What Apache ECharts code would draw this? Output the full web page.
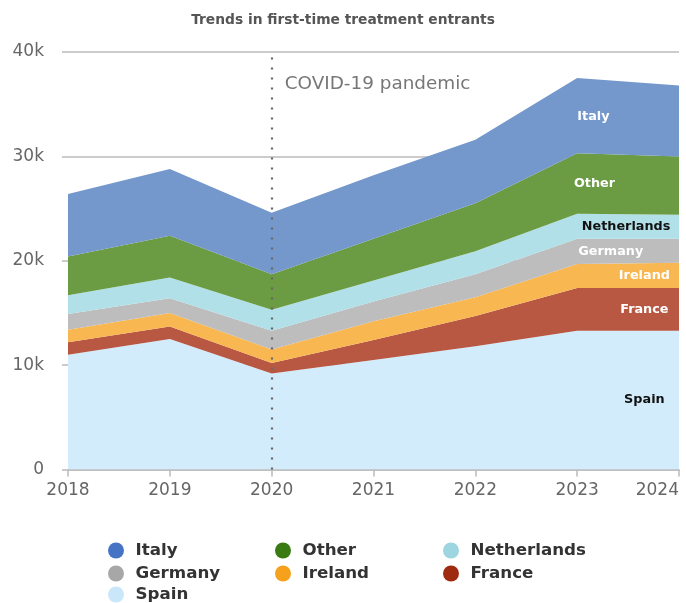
<!DOCTYPE html>
<html>
<head>
<meta charset="utf-8">
<script src="https://cdn.jsdelivr.net/npm/echarts@6/dist/echarts.min.js"></script>
<style>
  html, body { margin: 0; padding: 0; background: #fff; }
  #chart { width: 686px; height: 603px; }
</style>
</head>
<body>
<div id="chart"></div>
<script>
// First-time treatment entrants by country, stacked from the bottom up
var years = ['2018', '2019', '2020', '2021', '2022', '2023', '2024'];
var spain       = [11000, 12500, 9200, 10500, 11800, 13300, 13300];
var france      = [1200, 1200, 1000, 1900, 2900, 4100, 4100];
var ireland     = [1200, 1300, 1300, 1800, 1800, 2300, 2400];
var germany     = [1500, 1400, 1800, 1900, 2200, 2400, 2300];
var netherlands = [1800, 2000, 2000, 2000, 2200, 2400, 2300];
var other       = [3700, 4000, 3400, 4000, 4600, 5800, 5600];
var italy       = [6000, 6400, 5900, 6100, 6100, 7200, 6800];

var yTicks = [0, 10000, 20000, 30000, 40000];
var eventYear = '2020';
var eventText = 'COVID-19 pandemic';

// stacking order (bottom to top)
var layers = [
  { name: 'Spain',       data: spain,       icon: '#c9e7f9', fill: '#d2ecfb', text: '#111', at: 0.66 },
  { name: 'France',      data: france,      icon: '#9e2a10', fill: '#b85742', text: '#fff', at: 0.66 },
  { name: 'Ireland',     data: ireland,     icon: '#f6a11c', fill: '#f9b752', text: '#fff', at: 0.66 },
  { name: 'Germany',     data: germany,     icon: '#a7a7a7', fill: '#bdbdbd', text: '#fff', at: 0.33 },
  { name: 'Netherlands', data: netherlands, icon: '#9dd5e0', fill: '#b2e0e9', text: '#111', at: 0.48 },
  { name: 'Other',       data: other,       icon: '#3a7a12', fill: '#6b9b43', text: '#fff', at: 0.17 },
  { name: 'Italy',       data: italy,       icon: '#4673c4', fill: '#7498cc', text: '#fff', at: 0.16 }
];

var chart = echarts.init(document.getElementById('chart'));
var FONT = "'DejaVu Sans', Verdana, sans-serif";

var series = layers.map(function (l) {
  return {
    name: l.name,
    type: 'line',
    stack: 'total',
    data: l.data,
    symbol: 'none',
    smooth: false,
    lineStyle: { width: 0 },
    itemStyle: { color: l.icon },
    areaStyle: { color: l.fill, opacity: 1 },
    emphasis: { disabled: true },
    z: 2
  };
});

// dotted marker line for the event year
series[0].markLine = {
  silent: true,
  symbol: ['none', 'none'],
  label: { show: false },
  lineStyle: { color: '#666', type: [2, 8], width: 2.2 },
  data: [[{ coord: [eventYear, 0] }, { coord: [eventYear, yTicks[yTicks.length - 1]] }]],
  z: 5
};

var legendText = {
  fontFamily: FONT, fontWeight: 'bold', fontSize: 16.7, lineHeight: 16,
  color: '#333', padding: [0, 0, 0, 6]
};
function legendCol(left, top, names) {
  return {
    left: left, top: top, orient: 'vertical', padding: 0,
    icon: 'circle', itemWidth: 17, itemHeight: 16, itemGap: 6,
    textStyle: legendText, data: names, selectedMode: false
  };
}

chart.setOption({
  animation: false,
  title: {
    text: 'Trends in first-time treatment entrants',
    left: 'center', top: 8,
    textStyle: { fontFamily: FONT, fontWeight: 'bold', fontSize: 13.8, color: '#555' }
  },
  grid: { left: 68, right: 7, top: 52, bottom: 133.5, containLabel: false, outerBoundsMode: 'none' },
  legend: [
    legendCol(108, 542, ['Italy', 'Germany']),
    legendCol(108, 586, ['Spain']),
    legendCol(275, 542, ['Other', 'Ireland']),
    legendCol(443, 542, ['Netherlands', 'France'])
  ],
  xAxis: {
    type: 'category',
    data: years,
    boundaryGap: false,
    axisLine: { lineStyle: { color: '#bbb', width: 1.5 } },
    axisTick: { show: true, length: 7, lineStyle: { color: '#bbb', width: 1.5 } },
    axisLabel: { fontFamily: FONT, fontSize: 17, color: '#666', margin: 13, alignMaxLabel: 'right' },
    splitLine: { show: false }
  },
  yAxis: {
    type: 'value',
    min: yTicks[0], max: yTicks[yTicks.length - 1], interval: 10000,
    axisLine: { show: false },
    axisTick: { show: true, length: 6, lineStyle: { color: '#bbb', width: 1.5 } },
    axisLabel: {
      fontFamily: FONT, fontSize: 17, color: '#666', margin: 24,
      formatter: function (v) { return v === 0 ? '0' : (v / 1000) + 'k'; }
    },
    splitLine: { lineStyle: { color: '#bbb', width: 1.5 } }
  },
  series: series
});

// in-chart series names, centred on each band between the last two years
function placeLabels() {
  var n = years.length;
  var xa = chart.convertToPixel({ xAxisIndex: 0 }, years[n - 2]);
  var xb = chart.convertToPixel({ xAxisIndex: 0 }, years[n - 1]);
  var base = [0, 0];
  var els = [];
  layers.forEach(function (l) {
    var va = l.data[n - 2], vb = l.data[n - 1];
    var lowA = base[0], lowB = base[1];
    var low = lowA + (lowB - lowA) * l.at;
    var high = (lowA + va) + ((lowB + vb) - (lowA + va)) * l.at;
    base = [lowA + va, lowB + vb];
    var px = xa + (xb - xa) * l.at;
    var py = chart.convertToPixel({ yAxisIndex: 0 }, (low + high) / 2);
    els.push({
      type: 'text', x: px, y: py, silent: true, z: 10,
      style: {
        text: l.name, fill: l.text, align: 'center', verticalAlign: 'middle',
        font: 'bold 12.8px ' + FONT
      }
    });
  });
  var ex = chart.convertToPixel({ xAxisIndex: 0 }, eventYear);
  var ey = chart.convertToPixel({ yAxisIndex: 0 }, yTicks[yTicks.length - 1]);
  els.push({
    type: 'text', x: ex + 13, y: ey + 32, silent: true, z: 10,
    style: {
      text: eventText, fill: '#777', align: 'left', verticalAlign: 'middle',
      font: '18.4px ' + FONT
    }
  });
  chart.setOption({ graphic: { elements: els } });
}
placeLabels();
</script>
</body>
</html>
